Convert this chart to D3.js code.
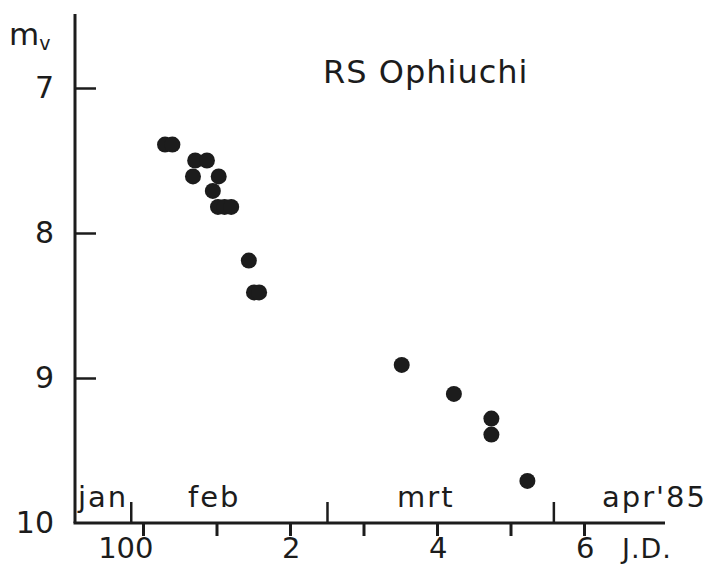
<!DOCTYPE html>
<html>
<head>
<meta charset="utf-8">
<script src="https://cdn.jsdelivr.net/npm/d3@7"></script>
<style>
  body { margin: 0; background: #fff; }
  svg text { font-family: "DejaVu Sans", sans-serif; fill: #1c1c1c; }
</style>
</head>
<body>
<svg id="chart" width="708" height="567"></svg>
<script>
// J.D. 2446000 + day, visual magnitude
var jdDays = [103.0, 104.0, 107.1, 108.7, 106.8, 110.3, 109.5, 110.2, 111.1, 112.0,
              114.4, 115.1, 115.8, 135.2, 142.3, 147.4, 147.4, 152.3];
var magV   = [7.39, 7.39, 7.50, 7.50, 7.61, 7.61, 7.71, 7.82, 7.82, 7.82,
              8.19, 8.41, 8.41, 8.91, 9.11, 9.28, 9.39, 9.71];

var jdTicks = [100, 110, 120, 130, 140, 150, 160];
var jdLabels = {100: "100", 120: "2", 140: "4", 160: "6"};
var magTicks = [7, 8, 9, 10];
var monthEdges = [98.4, 125.1, 155.9];
var monthNames = ["jan", "feb", "mrt", "apr'85"];
var monthLabelX = [78, 188, 397, 602];

var ink = "#1c1c1c";
var svg = d3.select("#chart");

var x = d3.scaleLinear().domain([100, 160]).range([143, 584]);
var y = d3.scaleLinear().domain([7, 10]).range([88, 523]);

var x0 = 75, yBase = y(10);

// axis lines
svg.append("line")
    .attr("x1", x0).attr("x2", x0)
    .attr("y1", 14).attr("y2", yBase)
    .attr("stroke", ink).attr("stroke-width", 3);
svg.append("line")
    .attr("x1", x0 - 1.5).attr("x2", 665)
    .attr("y1", yBase).attr("y2", yBase)
    .attr("stroke", ink).attr("stroke-width", 3);

// y axis: ticks point inward, labels on the left
var yAxis = d3.axisLeft(y)
    .tickValues(magTicks)
    .tickSize(-21)
    .tickPadding(21)
    .tickFormat(d3.format("d"));

var gy = svg.append("g")
    .attr("transform", "translate(" + x0 + ",0)")
    .call(yAxis);
gy.select(".domain").remove();
gy.selectAll(".tick line")
    .attr("stroke", ink).attr("stroke-width", 2.5)
    .filter(function(d) { return d === 10; }).remove();
gy.selectAll(".tick text")
    .attr("fill", ink)
    .style("font-family", "DejaVu Sans, sans-serif")
    .style("font-size", "30px");

// J.D. axis: ticks point down
var xAxis = d3.axisBottom(x)
    .tickValues(jdTicks)
    .tickSize(13)
    .tickFormat(function(d) { return jdLabels[d] || ""; });

var gx = svg.append("g")
    .attr("transform", "translate(0," + yBase + ")")
    .call(xAxis);
gx.select(".domain").remove();
gx.selectAll(".tick line").attr("stroke", ink).attr("stroke-width", 3);
gx.selectAll(".tick text")
    .attr("fill", ink)
    .attr("text-anchor", "end")
    .attr("x", 10)
    .attr("y", 35)
    .attr("dy", 0)
    .style("font-family", "DejaVu Sans, sans-serif")
    .style("font-size", "29px");

svg.append("text")
    .attr("x", 622).attr("y", 558)
    .style("font-size", "27px")
    .style("letter-spacing", "1px")
    .text("J.D.");

// month boundaries: ticks point up
svg.selectAll("line.month")
    .data(monthEdges)
    .enter().append("line")
    .attr("class", "month")
    .attr("x1", function(d) { return x(d); })
    .attr("x2", function(d) { return x(d); })
    .attr("y1", yBase).attr("y2", yBase - 21)
    .attr("stroke", ink).attr("stroke-width", 2.5);

svg.selectAll("text.month")
    .data(monthNames)
    .enter().append("text")
    .attr("class", "month")
    .attr("x", function(d, i) { return monthLabelX[i]; })
    .attr("y", 507)
    .style("font-size", "29px")
    .style("letter-spacing", "2px")
    .text(function(d) { return d; });

// title and y label
svg.append("text")
    .attr("x", 323).attr("y", 83)
    .style("font-size", "32px")
    .style("letter-spacing", "1px")
    .text("RS Ophiuchi");

var mv = svg.append("text")
    .attr("x", 9).attr("y", 45)
    .style("font-size", "31px");
mv.append("tspan").text("m");
mv.append("tspan")
    .attr("dy", 5)
    .style("font-size", "19px")
    .text("v");

// observations
svg.selectAll("circle.obs")
    .data(jdDays)
    .enter().append("circle")
    .attr("class", "obs")
    .attr("cx", function(d) { return x(d); })
    .attr("cy", function(d, i) { return y(magV[i]); })
    .attr("r", 8)
    .attr("fill", ink);
</script>
</body>
</html>
